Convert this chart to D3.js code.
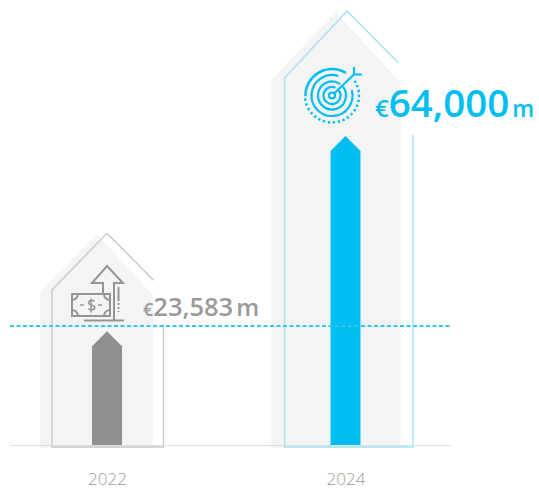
<!DOCTYPE html>
<html>
<head>
<meta charset="utf-8">
<script src="https://cdn.jsdelivr.net/npm/d3@7"></script>
<style>
html,body{margin:0;padding:0;background:#fff;}
svg{display:block;}
text{font-family:"Open Sans",sans-serif;}
</style>
</head>
<body>
<svg id="chart" width="539" height="490"></svg>
<script>
// Investment figures in € million
const years = ["2022", "2024"];
const values = [23583, 64000];
const valueLabels = ["23,583", "64,000"];
const referenceValue = 24650;
const barColors = ["#8f8f90", "#00bef2"];
const outlineColors = ["#c9c9c9", "#9fe3f5"];

const svg = d3.select("#chart");
const x = d3.scalePoint().domain(years).range([107, 345.5]);
const y = d3.scaleLinear().domain([0, 64000]).range([445, 136]);

const housePath = d3.line();

// Pale house behind each bar
const backdrops = [
  {l: -67, r: 46, apexDx: -10, apexDy: -97, shoulderDy: -39},
  {l: -74, r: 55, apexDx: -10, apexDy: -124, shoulderDy: -56}
];
svg.append("g").selectAll("path").data(years).join("path")
  .attr("fill", "#f4f4f4")
  .attr("d", (d, i) => {
    const b = backdrops[i], cx = x(d), top = y(values[i]);
    return housePath([
      [cx + b.l, 448], [cx + b.l, top + b.shoulderDy],
      [cx + b.apexDx, top + b.apexDy], [cx + b.r, top + b.shoulderDy + 3], [cx + b.r, 448]
    ]) + "Z";
  });

// Open outline with a gap on the right where the icon and figure sit
const outlines = [
  {l: -55, r: 56.5, apexDy: -98, shoulderDy: -41, roofEndX: 46.5, roofEndDy: -51, rightTopDy: -7},
  {l: -61, r: 67.5, apexDy: -125, shoulderDy: -58, roofEndX: 53, roofEndDy: -73, rightTopDy: -1}
];
svg.append("g").selectAll("path").data(years).join("path")
  .attr("fill", "none")
  .attr("stroke", (d, i) => outlineColors[i])
  .attr("stroke-width", 1.4)
  .attr("d", (d, i) => {
    const o = outlines[i], cx = x(d), top = y(values[i]);
    return housePath([
      [cx + o.roofEndX, top + o.roofEndDy], [cx + 1.5 * i, top + o.apexDy],
      [cx + o.l, top + o.shoulderDy], [cx + o.l, 447],
      [cx + o.r, 447], [cx + o.r, top + o.rightTopDy]
    ]);
  });

// Baseline and year labels
const axis = svg.append("g")
  .attr("transform", `translate(0,${y(0) + 0.5})`)
  .call(d3.axisBottom(x).tickSize(0).tickPadding(27));
axis.select(".domain").remove();
axis.selectAll("text")
  .attr("font-family", '"Open Sans",sans-serif')
  .attr("font-size", 17)
  .attr("font-weight", 300)
  .attr("fill", "#9c9c9c");
svg.append("line")
  .attr("x1", 10).attr("x2", 451)
  .attr("y1", y(0) + 0.5).attr("y2", y(0) + 0.5)
  .attr("stroke", "#dedede").attr("stroke-width", 1);

// Arrow-topped bars
const barWidth = 30, tipDrop = 15;
svg.append("g").selectAll("path").data(values).join("path")
  .attr("fill", (d, i) => barColors[i])
  .attr("d", (d, i) => {
    const cx = x(years[i]), top = y(d), half = barWidth / 2;
    return housePath([
      [cx - half, y(0)], [cx - half, top + tipDrop], [cx, top],
      [cx + half, top + tipDrop], [cx + half, y(0)]
    ]) + "Z";
  });

// Dashed reference level
svg.append("line")
  .attr("x1", 10).attr("x2", 452)
  .attr("y1", y(referenceValue)).attr("y2", y(referenceValue))
  .attr("stroke", "#35c5ee").attr("stroke-width", 1.8)
  .attr("stroke-dasharray", "4 2.5");

// Value figures: small euro sign, large number, small unit
const figures = [
  {dx: 36, dy: -15, euro: 18, num: 25.5, unit: 24, color: "#9a9a9a"},
  {dx: 29.5, dy: -19, euro: 24, num: 38.5, unit: 23, color: "#00bef2"}
];
const figure = svg.append("g").selectAll("text").data(values).join("text")
  .attr("x", (d, i) => x(years[i]) + figures[i].dx)
  .attr("y", (d, i) => y(d) + figures[i].dy)
  .attr("font-weight", 600)
  .attr("fill", (d, i) => figures[i].color);
figure.append("tspan").attr("font-size", (d, i) => figures[i].euro).text("€");
figure.append("tspan").attr("font-size", (d, i) => figures[i].num).text((d, i) => valueLabels[i]);
figure.append("tspan").attr("font-size", (d, i) => figures[i].unit).attr("dx", 3).text("m");

// Banknote-and-arrow icon above the 2022 bar
const money = svg.append("g")
  .attr("fill", "none").attr("stroke", "#959595").attr("stroke-width", 2);
money.append("rect").attr("x", 72).attr("y", 294).attr("width", 38).attr("height", 22);
money.append("path").attr("d",
  "M72 300a6 6 0 0 0 6-6M104 294a6 6 0 0 0 6 6M110 310a6 6 0 0 0-6 6M78 316a6 6 0 0 0-6-6");
money.append("path").attr("d", "M80 305h4M98 305h4").attr("stroke-width", 1.6);
money.append("path").attr("d", "M94.500 301.500c-1-1.500-6-1.500-6 1.200c0 3 6.400 1.800 6.400 4.800c0 2.800-5.600 2.600-6.800 1M91 298.500v14")
  .attr("stroke-width", 1.5);
money.append("path").attr("d", "M103 293v-10h-11l15-17l16 17h-9v37");
money.append("path").attr("d", "M118.500 287v25").attr("stroke-dasharray", "14 2 2 2 2 2");
money.append("path").attr("d", "M84 320.500h40");

// Target icon above the 2024 bar
const target = svg.append("g")
  .attr("transform", "translate(332,95.500)")
  .attr("fill", "none").attr("stroke", "#00bef2").attr("stroke-width", 2.2);
const ringArc = d3.arc();
target.append("circle").attr("r", 3);
target.append("path").attr("d", ringArc({innerRadius: 8.5, outerRadius: 8.5, startAngle: 0.9, endAngle: 6.7}));
target.append("path").attr("d", ringArc({innerRadius: 14, outerRadius: 14, startAngle: 0.9, endAngle: 6.9}));
target.append("path").attr("d", ringArc({innerRadius: 20.5, outerRadius: 20.5, startAngle: 1.3, endAngle: 6.6}));
target.append("path").attr("d", ringArc({innerRadius: 26.5, outerRadius: 26.5, startAngle: -1.6, endAngle: 0.55}))
  .attr("stroke-width", 2.5);
target.append("path").attr("d", ringArc({innerRadius: 27, outerRadius: 27, startAngle: 1.0, endAngle: 4.65}))
  .attr("stroke-dasharray", "2 3").attr("stroke-width", 2.5);
target.append("path").attr("d", "M2 -2L22 -21M22 -28.500L22 -21L30 -21");
</script>
</body>
</html>
